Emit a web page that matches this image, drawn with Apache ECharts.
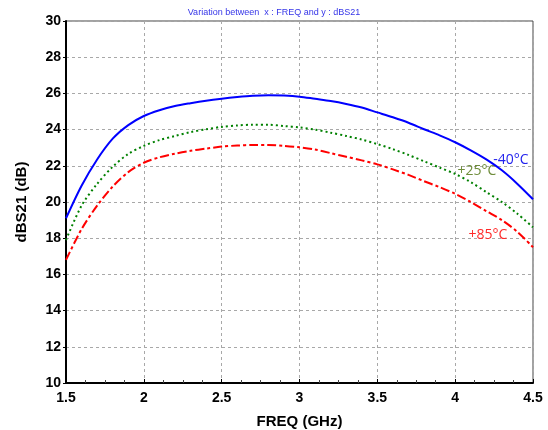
<!DOCTYPE html>
<html>
<head>
<meta charset="utf-8">
<script src="https://cdn.jsdelivr.net/npm/echarts@6/dist/echarts.min.js"></script>
<style>
  html, body { margin: 0; padding: 0; background: #fff; }
  #chart { width: 548px; height: 430px; }
</style>
</head>
<body>
<div id="chart"></div>
<script>
// Frequency sweep in GHz
const freq = [1.5, 1.6, 1.7, 1.8, 1.9, 2.0, 2.1, 2.2, 2.3, 2.4, 2.5, 2.6, 2.7, 2.8, 2.9, 3.0,
              3.1, 3.2, 3.3, 3.4, 3.5, 3.6, 3.7, 3.8, 3.9, 4.0, 4.1, 4.2, 4.3, 4.4, 4.5];

// dBS21 gain at each temperature (dB)
const gainMinus40 = [19.1, 20.9, 22.35, 23.5, 24.25, 24.75, 25.07, 25.3, 25.46, 25.6, 25.71, 25.8, 25.87, 25.9, 25.88, 25.82,
                     25.7, 25.58, 25.42, 25.22, 24.95, 24.68, 24.38, 24.02, 23.68, 23.3, 22.85, 22.35, 21.75, 21.0, 20.15];
const gainPlus25 = [17.9, 19.8, 21.0, 21.95, 22.65, 23.1, 23.42, 23.65, 23.86, 24.02, 24.15, 24.23, 24.27, 24.27, 24.2, 24.12,
                    24.0, 23.83, 23.65, 23.45, 23.2, 22.92, 22.6, 22.25, 21.9, 21.55, 21.1, 20.55, 20.0, 19.35, 18.6];
const gainPlus85 = [16.8, 18.5, 19.8, 20.85, 21.65, 22.17, 22.47, 22.67, 22.83, 22.95, 23.06, 23.12, 23.15, 23.15, 23.1, 23.02,
                    22.9, 22.7, 22.5, 22.3, 22.08, 21.8, 21.5, 21.15, 20.82, 20.45, 20.0, 19.5, 19.0, 18.35, 17.5];

const seriesNames = ['-40°C', '+25°C', '+85°C'];

const pairs = (ys) => freq.map((f, i) => [f, ys[i]]);

const chart = echarts.init(document.getElementById('chart'), null, { renderer: 'canvas' });

const tickFont = { color: '#000', fontFamily: 'Liberation Sans, Arial, sans-serif', fontWeight: 'bold', fontSize: 14 };
const gridLine = { show: true, lineStyle: { color: '#a8a8a8', type: [3, 3], width: 1 } };

chart.setOption({
  animation: false,
  backgroundColor: '#fff',
  title: {
    text: 'Variation between  x : FREQ and y : dBS21',
    left: 'center',
    top: 3,
    textStyle: { color: '#3535e8', fontSize: 9, fontWeight: 'normal', fontFamily: 'Liberation Sans, Arial, sans-serif' }
  },
  grid: {
    left: 66, right: 15, top: 21, bottom: 47,
    containLabel: false,
    outerBoundsMode: 'none',
    show: true, borderColor: '#444', borderWidth: 1, backgroundColor: 'transparent'
  },
  xAxis: {
    type: 'value',
    min: 1.5, max: 4.5, interval: 0.5,
    name: 'FREQ (GHz)',
    nameLocation: 'middle',
    nameGap: 31,
    nameTextStyle: { color: '#000', fontFamily: 'Liberation Sans, Arial, sans-serif', fontWeight: 'bold', fontSize: 15 },
    axisLine: { show: true, onZero: false, lineStyle: { color: '#000', width: 2 } },
    axisTick: { show: true, inside: true, length: 4, lineStyle: { color: '#000' } },
    minorTick: { show: true, splitNumber: 4, length: 3, lineStyle: { color: '#444' } },
    axisLabel: Object.assign({ margin: 8 }, tickFont),
    splitLine: gridLine
  },
  yAxis: {
    type: 'value',
    min: 10, max: 30, interval: 2,
    name: 'dBS21 (dB)',
    nameLocation: 'middle',
    nameGap: 37,
    nameRotate: 90,
    nameTextStyle: { color: '#000', fontFamily: 'Liberation Sans, Arial, sans-serif', fontWeight: 'bold', fontSize: 15 },
    axisLine: { show: true, onZero: false, lineStyle: { color: '#000', width: 2 } },
    axisTick: { show: true, inside: false, length: 3, lineStyle: { color: '#000' } },
    axisLabel: Object.assign({ margin: 5 }, tickFont),
    splitLine: gridLine
  },
  series: [
    {
      name: seriesNames[0], type: 'line', data: pairs(gainMinus40),
      smooth: 0.3, showSymbol: false,
      lineStyle: { color: '#0000ff', width: 2, type: 'solid' }
    },
    {
      name: seriesNames[1], type: 'line', data: pairs(gainPlus25),
      smooth: 0.3, showSymbol: false,
      lineStyle: { color: '#008000', width: 2, type: [2, 3] }
    },
    {
      name: seriesNames[2], type: 'line', data: pairs(gainPlus85),
      smooth: 0.3, showSymbol: false,
      lineStyle: { color: '#ff0000', width: 2, type: [9, 3, 3, 3] }
    }
  ]
});

// Temperature tags placed next to the curve ends
const tagFont = 'normal 14px "Open Sans", "Noto Sans", sans-serif';
chart.setOption({
  graphic: [
    { type: 'text', x: 511, y: 160, style: { text: seriesNames[0], fill: '#2222ee', font: tagFont, align: 'center', verticalAlign: 'middle' } },
    { type: 'text', x: 477, y: 171, style: { text: seriesNames[1], fill: '#6e8c3a', font: tagFont, align: 'center', verticalAlign: 'middle' } },
    { type: 'text', x: 488, y: 235, style: { text: seriesNames[2], fill: '#ff2a2a', font: tagFont, align: 'center', verticalAlign: 'middle' } }
  ]
});
</script>
</body>
</html>
